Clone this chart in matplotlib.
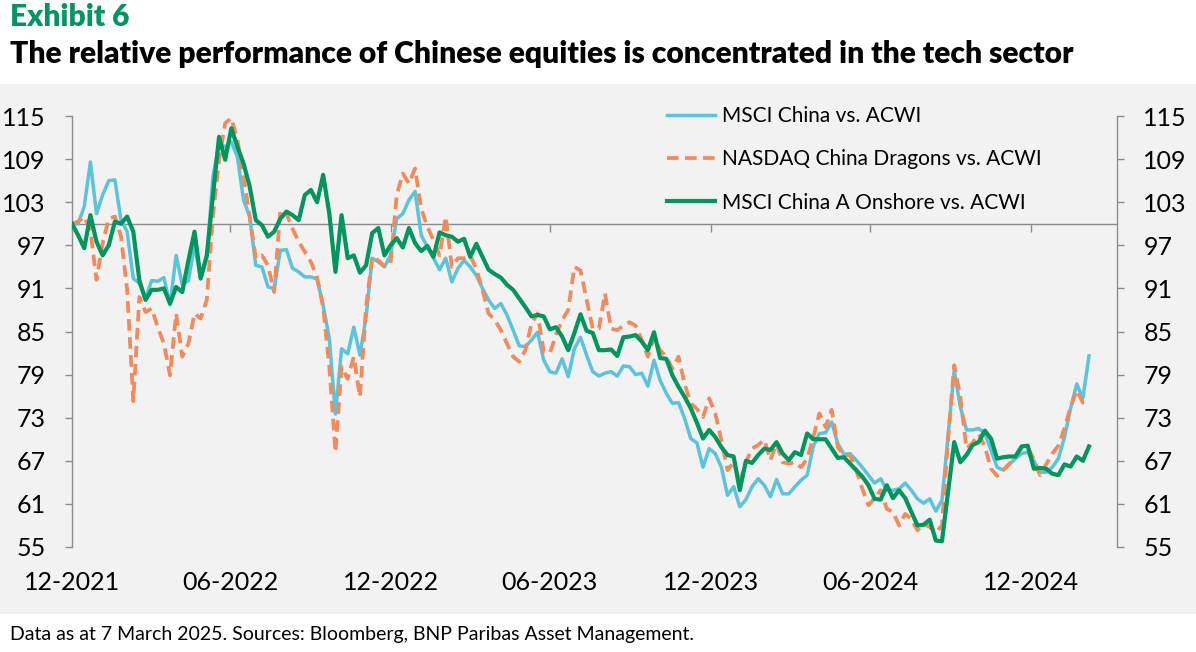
import matplotlib
matplotlib.use("Agg")
import matplotlib.pyplot as plt
import numpy as np
import pandas as pd
from matplotlib.patches import Rectangle

plt.rcParams["font.family"] = ["Lato", "DejaVu Sans"]

# weekly observations, rebased to 100 at end of December 2021
dates = pd.date_range("2021-12-31", periods=167, freq="7D")

msci_china = [
    100, 100, 102.4, 108.6, 101.4, 104, 106, 106.1, 100.5, 98.9,
    92.4, 91.7, 89.6, 92.1, 92, 92.5, 88.7, 95.6, 91.5, 92.1,
    97, 92.3, 95.2, 106.5, 111.2, 110.7, 111.4, 109.3, 103.3, 101,
    94.2, 94, 91.2, 91, 96.3, 96.4, 93.8, 93.3, 92.6, 92.6,
    92.3, 88.6, 84, 73.5, 82.6, 81.9, 85.6, 81.7, 87, 95.2,
    94.7, 94, 95.6, 100.7, 101.4, 103.3, 104.5, 98.4, 96.8, 95.2,
    93.6, 95.2, 91.9, 93.8, 94.9, 94, 92.8, 91, 89.4, 88.2,
    88.9, 87.3, 85.2, 83, 82.9, 83.8, 84.9, 81, 79.4, 79.2,
    81.2, 78.7, 82.6, 84.2, 81.7, 79.4, 78.8, 79.2, 79.4, 78.8,
    80.2, 80.1, 79, 79.2, 77.4, 81, 78.2, 76.4, 75, 75.1,
    72.9, 70.1, 69.5, 66.1, 68.7, 68, 66.1, 62.2, 63.4, 60.6,
    61.6, 63.4, 64.5, 63.6, 62, 64.4, 62.4, 62.4, 63.4, 64.3,
    65, 69, 70.8, 70.9, 72.4, 69.4, 67.9, 68, 67.1, 66.1,
    65, 63.9, 64.5, 62.9, 62.9, 63.1, 63.9, 62.9, 61.7, 61.1,
    61.7, 60, 61.5, 70.5, 79.6, 74.5, 71.3, 71.3, 71.5, 70.8,
    68.5, 66.1, 65.7, 66.5, 67.3, 68, 68.2, 67, 65.4, 65.4,
    66.1, 67.3, 70.3, 74.3, 77.7, 75.7, 81.6,
]

nasdaq_dragons = [
    100, 100.3, 101, 99.1, 92.2, 97.3, 100.7, 101, 98.2, 90.8,
    75.3, 89.8, 87.7, 88.2, 85.6, 83.3, 78.9, 87.5, 81.5, 83.3,
    87.5, 86.8, 89.4, 101, 108.9, 114, 114.7, 111.7, 106.5, 101,
    95.2, 95.6, 94.2, 90.5, 101.9, 101.4, 99.3, 97.5, 96.1, 94.7,
    92.5, 88.4, 80.1, 68.2, 80.1, 78.4, 81.5, 75.9, 88.4, 95.4,
    94.9, 94.1, 94.5, 104, 107, 105.6, 107.7, 102.1, 99.6, 97.7,
    95.6, 101, 94, 95.2, 95.2, 95.6, 93.7, 90.8, 87.5, 86.6,
    85.2, 83.3, 81.5, 80.8, 82.4, 86.1, 87.5, 82.2, 82, 84.5,
    86.6, 88, 94, 93.5, 89.4, 85.4, 85.4, 90.3, 85.4, 85.2,
    85.8, 86.3, 85.8, 83.8, 81.5, 84.2, 82.4, 81.5, 79.8, 81.5,
    77.7, 75, 74.2, 73.1, 75.7, 73.6, 69.8, 65.7, 66.8, 64,
    66.8, 68.7, 69.2, 69.9, 67.1, 69.4, 66.8, 66.6, 66.8, 66.1,
    67.3, 70.3, 73.6, 71.7, 74.1, 68.9, 67.8, 67.8, 65.7, 63.1,
    60.8, 61.8, 62.9, 60.3, 59.9, 58, 59.6, 58.9, 57.3, 58.2,
    57.8, 57, 58, 70, 80.3, 75.9, 68.7, 69.5, 70.7, 69,
    65.9, 64.9, 65.7, 66.6, 67.7, 68.7, 68.9, 67.2, 65, 66.5,
    68, 69.1, 71.5, 74.5, 76.8, 75.1, 75.2,
]

msci_china_a = [
    100, 98.4, 96.6, 101.2, 97.5, 95.6, 97, 100.3, 100, 101,
    98.9, 92.1, 89.4, 90.8, 90.8, 91, 88.9, 91.2, 90.5, 94.9,
    98.9, 92.4, 95.6, 103.8, 112.1, 108.9, 113.3, 110.7, 108.4, 105.2,
    100.5, 99.8, 98.2, 98.9, 100.7, 101.7, 101.2, 100.5, 104, 104.7,
    103, 106.8, 101.4, 93.3, 101.2, 95.2, 95.6, 93.2, 94.2, 98.7,
    99.4, 95.6, 97, 98, 96.7, 99.4, 97.3, 96.2, 96.9, 95.4,
    98.8, 98.4, 98.2, 97.5, 97.9, 95.4, 97.2, 95.4, 93.6, 93,
    92.5, 91.5, 90.8, 89.6, 88.4, 87.1, 87.3, 87.1, 85.3, 85.6,
    84.3, 82.4, 84.8, 87.4, 85.1, 84.8, 82.4, 82.4, 82.5, 81.6,
    84.2, 84.3, 84.5, 83.6, 82.4, 84.9, 81.3, 81.2, 78.9, 77.3,
    75.9, 74.3, 72.3, 70.1, 71.3, 70.3, 68.9, 67.8, 67.6, 62.9,
    67, 66.7, 67.8, 68.7, 68.5, 69.6, 68, 67.1, 68.2, 67.8,
    70.8, 70, 70, 70, 68.7, 67.4, 67.5, 66.6, 65.7, 64.8,
    63.6, 61.7, 61.6, 63.6, 61.8, 62.9, 61.8, 59.9, 58, 58.1,
    58.8, 55.9, 55.8, 62.7, 69.6, 66.8, 67.8, 69.2, 69.6, 71.2,
    70.1, 67.3, 67.5, 67.6, 67.6, 69, 69.1, 65.9, 66, 65.9,
    65.2, 65, 66.5, 66.2, 67.6, 67, 69,
]

series_labels = [
    "MSCI China vs. ACWI",
    "NASDAQ China Dragons vs. ACWI",
    "MSCI China A Onshore vs. ACWI",
]
y_ticks = list(range(55, 116, 6))
base_level = 100
x_tick_dates = pd.to_datetime(
    ["2021-12-31", "2022-06-30", "2022-12-31", "2023-06-30",
     "2023-12-31", "2024-06-30", "2024-12-31"]
)

W, H = 1196, 652
AXIS_GREY = "#8c8c8c"
fig = plt.figure(figsize=(W / 100, H / 100), dpi=100)
fig.patch.set_facecolor("white")

# grey panel behind the chart
fig.patches.append(Rectangle((0, 1 - 614 / H), 1, (614 - 84) / H,
                             transform=fig.transFigure, facecolor="#f2f2f2",
                             edgecolor="none", zorder=-10))

ax = fig.add_axes([72 / W, 1 - 547 / H, (1117 - 72) / W, (547 - 116) / H])
ax.set_zorder(2)
ax.set_facecolor("none")

ax.axhline(base_level, color=AXIS_GREY, lw=1.0, zorder=1)
ax.plot(dates, msci_china, color="#5bc3dc", lw=2.5, label=series_labels[0], zorder=3)
ax.plot(dates, nasdaq_dragons, color="#f28a5c", lw=2.7, dashes=(3.1, 1.7),
        label=series_labels[1], zorder=4)
ax.plot(dates, msci_china_a, color="#00965e", lw=3.0, label=series_labels[2], zorder=5)

ax.set_ylim(55, 115)
ax.set_yticks(y_ticks)
ax.set_xlim(pd.Timestamp("2021-12-31"), pd.Timestamp("2025-04-08"))
ax.set_xticks(x_tick_dates)
ax.set_xticklabels([d.strftime("%m-%Y") for d in x_tick_dates])

for side in ["top", "bottom"]:
    ax.spines[side].set_visible(False)
for side in ["left", "right"]:
    ax.spines[side].set_color(AXIS_GREY)
    ax.spines[side].set_linewidth(1.0)

ax.tick_params(axis="y", which="both", direction="out", length=5, width=1,
               color=AXIS_GREY, labelsize=18, labelcolor="black",
               left=True, right=True, labelleft=True, labelright=True, pad=14)
ax.tick_params(axis="x", length=0, labelsize=18, labelcolor="black", pad=17)

# date ticks hang below the line at 100
sec = ax.secondary_xaxis((base_level - 55) / 60)
sec.set_xticks(x_tick_dates)
sec.xaxis.set_ticks_position("bottom")
sec.tick_params(axis="x", direction="out", length=6, width=1, color=AXIS_GREY,
                labelbottom=False, labeltop=False, top=False, bottom=True)
for s in sec.spines.values():
    s.set_visible(False)

leg = fig.legend(loc="upper left", bbox_to_anchor=(667 / W, 1 - 106 / H),
                 frameon=False, fontsize=15, handlelength=2.3, handletextpad=0.35,
                 labelspacing=1.12, borderpad=0, borderaxespad=0)
leg.set_zorder(6)

fig.text(10 / W, 1 - 26 / H, "Exhibit 6", color="#00965e", fontsize=21.5,
         fontweight="heavy", va="baseline")
fig.text(10 / W, 1 - 62.5 / H,
         "The relative performance of Chinese equities is concentrated in the tech sector",
         color="black", fontsize=21.6, fontweight="heavy", va="baseline")
fig.text(10 / W, 1 - 640 / H,
         "Data as at 7 March 2025. Sources: Bloomberg, BNP Paribas Asset Management.",
         color="black", fontsize=14, va="baseline")

fig.savefig("out.png", dpi=100)
